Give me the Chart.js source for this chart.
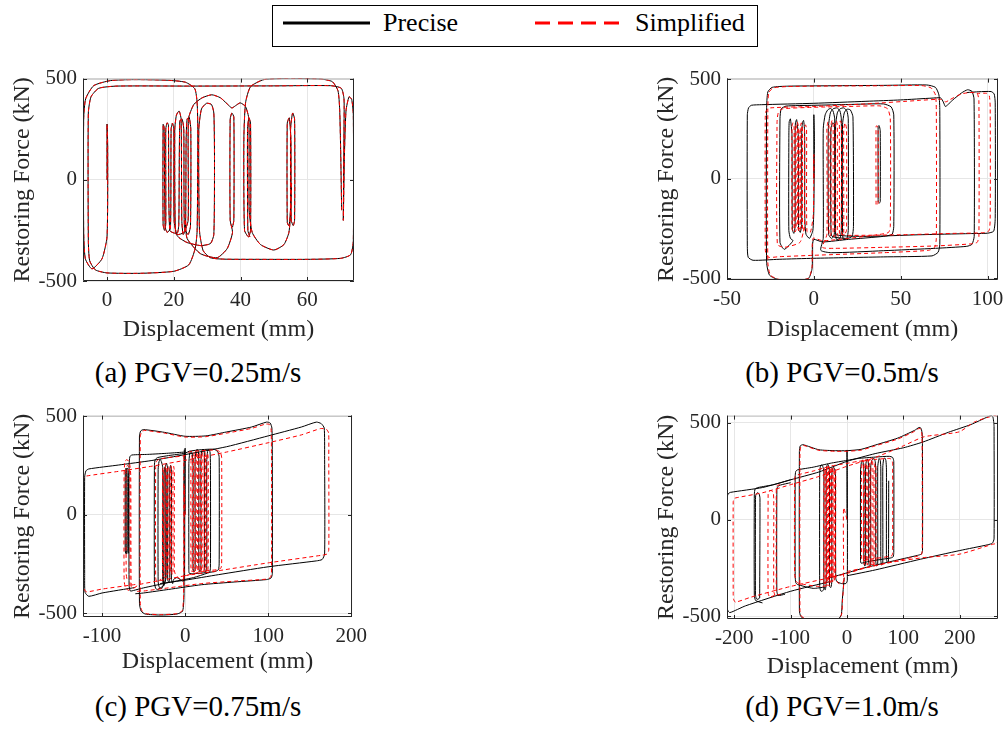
<!DOCTYPE html>
<html>
<head>
<meta charset="utf-8">
<script src="https://cdn.jsdelivr.net/npm/chart.js@4.4.1/dist/chart.umd.min.js"></script>
<style>
  html, body { margin: 0; padding: 0; background: #fff; }
  body { width: 1007px; height: 733px; position: relative; overflow: hidden; font-family: "Liberation Serif", "Times New Roman", serif; color: #000; }
  canvas { position: absolute; }
  .cap { position: absolute; width: 320px; text-align: center; font-size: 29px; line-height: 32px; white-space: nowrap; }
  #legend { position: absolute; left: 272px; top: 5px; width: 484px; height: 40px; border: 1px solid #000; background: #fff; }
  .lg { position: absolute; font-size: 26px; line-height: 30px; white-space: nowrap; }
</style>
</head>
<body>
<div id="legend"></div>
<svg style="position:absolute;left:283px;top:17px" width="90" height="12"><line x1="0" y1="6" x2="87" y2="6" stroke="#000" stroke-width="3"/></svg>
<span class="lg" style="left:383px;top:8px">Precise</span>
<svg style="position:absolute;left:535px;top:17px" width="90" height="12"><line x1="0" y1="6" x2="84" y2="6" stroke="#f00" stroke-width="3" stroke-dasharray="15 8"/></svg>
<span class="lg" style="left:635px;top:8px">Simplified</span>

<div class="cap" style="left:38px;top:356px">(a) PGV=0.25m/s</div>
<div class="cap" style="left:682px;top:356px">(b) PGV=0.5m/s</div>
<div class="cap" style="left:38px;top:690px">(c) PGV=0.75m/s</div>
<div class="cap" style="left:682px;top:690px">(d) PGV=1.0m/s</div>

<script>
// tick labels
const xTicksA = [0, 20, 40, 60];
const xTicksB = [-50, 0, 50, 100];
const xTicksC = [-100, 0, 100, 200];
const xTicksD = [-200, -100, 0, 100, 200];
const yTicks = [-500, 0, 500];

// hysteresis traces, [displacement mm, force kN]; [null, null] breaks the line
const pgv025Precise = [
  [0,0],[0,275],[0.2,160],[0,-280],[-1.5,-390],[-4.5,-440],[-6.5,-390],[-7,-250],[-7,300],[-6.4,400],[-4,465],[1,490],[8,495],[18,492],[23.5,482],[26.3,450],[27,380],[27.2,250],[27,-250],[26.4,-340],[24.5,-420],[20,-452],[10,-462],[0,-460],[-3.5,-445],[-5.2,-400],[-5.6,-300],[-5.6,330],[-4.8,410],[-2.5,452],[3,463],[25,463],[50,464],[67,465],[70.2,452],[71,400],[71,250],[70.8,-200],[71.1,100],[71.6,340],[72.5,410],[73.3,398],[73.8,320],[73.8,-300],[73,-370],[70,-388],[60,-393],[45,-393],[35,-392],[31,-385],[28.8,-350],[27.7,-250],[27.5,250],[28.3,350],[29.8,378],[31.3,372],[32,330],[32.2,100],[32,-270],[31,-315],[28,-325],[24,-310],[21.5,-285],[20.5,-260],
  [20.3,250],[20.8,320],[21.6,340],[22.2,300],[22.4,-200],[22.8,-270],[23.5,-250],[23.7,200],[24,300],[24.6,310],[25.1,250],[25,-230],[24.3,-270],[23.2,-240],[23,250],[22.5,300],[21.8,290],[21.5,-220],[21,-265],[18.8,-250],[18.4,270],[18,282],[17.6,250],[17.6,-220],[17.2,-250],[16.8,-220],[16.8,274],[17.1,260],[17.4,-230],[18,-260],[19,-240],[19.2,250],[19.6,280],[20,250],[20.1,-200],[21,-270],[23,-260],[24.3,-200],
  [24.4,300],[26,372],[28.5,405],[31.4,420],[34,405],[36,375],[37.4,355],[38.5,366],[39.9,380],[41.5,362],[42.5,300],[42.6,-150],[43.5,-260],[46,-320],[50,-347],[53,-320],[54.5,-260],[55,-150],[55,250],[55.6,330],[56.2,300],[56.2,-200],[55.8,-226],[55.2,-200],[55.1,200],[54.6,306],[54,280],[54,-210],[54.4,-226],[54.8,-200],[55.3,-16],
  [null,null],
  [42.8,-282],[42.2,-250],[42.1,250],[42.5,306],[43,280],[43,-250],[42.4,-282],[41.2,-250],[41,200],[41.5,380],[43,460],[47,495],[55,502],[64,498],[67.5,485],[69.2,440],[69.7,350],[70,150],[70.3,-150],
  [null,null],
  [23.5,-200],[24,-290],[28,-365],[33,-385],[36,-340],[37.6,-260],[36.9,-200],[36.9,300],[37.4,330],[38,310],[38,-200],[37.6,-234]
];
// at 0.25 m/s the simplified trace lies on the precise one
const pgv025Simplified = pgv025Precise;

const pgv05Precise = [
  [0,0],[0,320],[0.3,200],[0,-150],[-0.6,-260],[-2.5,-300],[-4.5,-280],[-5.2,-200],[-5.3,230],[-5.9,292],[-6.6,280],[-7,220],[-7,-230],[-7.8,-270],[-8.8,-255],[-9,220],[-9.9,296],[-10.6,280],[-10.8,220],[-10.8,-240],[-11.5,-275],[-12.4,-255],[-12.6,220],[-13.5,300],[-14.2,285],[-14.4,200],[-14.4,-260],[-13.5,-300],[-12,-312],
  [-17,-355],[-19.5,-320],[-19.5,300],[-18.8,350],[-16,364],[0,368],[20,372],[40,375],[44.5,360],[46,320],[46,-240],[45,-280],[40,-290],[20,-305],[5,-318],[0,-305],
  [-0.8,-330],[-1,-450],[-3,-500],[-10,-512],[-20,-508],[-25.5,-485],[-27.2,-420],[-27.2,350],[-26.5,435],[-24,458],[-15,464],[10,466],[40,468],[65,470],[70,458],[72,420],[72.5,340],[72.5,-330],[71.5,-370],[68,-388],[40,-393],[0,-400],[-20,-405],[-35,-410],[-37.8,-395],[-38.3,-340],
  [-38.3,320],[-37.6,355],[-36,368],[-30,371],[0,378],[30,388],[50,395],[68,404],[73,405],[74.5,385],[75.7,362],[77,370],[80,395],[85,430],[88.5,446],[91,438],[92.2,400],[92.3,-290],[91,-330],[88,-340],[70,-350],[40,-362],[10,-372],[4,-360],
  [5.4,-300],[5.4,250],[6.5,320],[8,345],[9.6,352],[11,340],[12,300],[12,-250],[11.5,-290],[10,-300],[8.5,-280],[8.3,250],[9.5,330],[11,350],[13.4,355],[15,340],[15.8,300],[15.8,-260],[15,-300],[13,-305],[12.5,-270],[12.5,260],[13.5,330],[15,350],[17.2,355],[19,340],[19.8,300],[19.8,-260],[19,-300],[17,-305],[16.5,-270],[16.5,270],[17.5,330],[19,348],[21,345],[22.5,310],[22.8,-240],[22,-290],[19,-300],[10.5,-290],[9.8,-250],[9.8,250],[10.8,280],[12,270],[12.2,-240],
  [13,-282],[30,-290],[60,-282],[90,-276],[100,-274],[103.5,-264],[104.4,-200],[104.4,380],[103.8,425],[102,437],[95,436],[88,432],
  [null,null],
  [37,-120],[37,262],[37.6,266],[38.2,240],[38.2,-115],[37.6,-125]
];
const pgv05Simplified = [
  [0,0],[0,120],[-0.3,-180],[-2,-270],[-4,-265],[-4.2,250],[-4.8,270],[-5.4,250],[-5.4,-250],[-6,-265],[-6.6,-250],[-6.6,260],[-7.2,280],[-7.8,260],[-7.8,-255],[-8.4,-268],[-9,-255],[-9,265],[-9.6,285],[-10.2,265],[-10.2,-255],[-10.8,-268],[-11.4,-255],[-11.4,260],[-12,280],[-12.6,260],[-12.6,-250],[-12,-262],[-11,-250],[-10.8,240],[-10,262],[-9.3,245],[-9.3,-240],[-8.6,-255],[-8,-240],[-8,240],[-7.3,258],[-6.7,240],[-6.7,-240],[-6,-252],[-5.4,-240],
  [-8,-320],[-17,-345],[-21,-330],[-21.2,280],[-20.5,330],[-18,350],[0,358],[20,362],[38,365],[42.5,350],[44,300],[44,-240],[43,-270],[38,-280],[20,-300],[5,-312],[-0.5,-300],
  [-1,-440],[-3,-500],[-10,-510],[-20,-506],[-25,-485],[-26.5,-420],[-26.5,340],[-26,430],[-23.5,455],[-15,462],[10,465],[40,466],[62,467],[67.5,455],[70,420],[70.5,340],[70.5,-300],[69.5,-345],[66,-360],[40,-372],[0,-385],[-20,-392],[-26,-395],[-27.8,-370],[-28,-300],[-28,300],[-27.5,340],[-25,355],[0,362],[30,375],[60,392],[73,398],[76,385],[78,395],[85,425],[90,432],[94,428],[95,390],[95,-290],[94,-320],[90,-328],[70,-338],[40,-345],[12,-350],[5,-345],
  [7.5,-280],[7.5,250],[8.1,285],[8.7,265],[8.7,-275],[9.3,-290],[9.9,-275],[9.9,270],[10.5,292],[11.1,270],[11.1,-275],[11.7,-292],[12.3,-275],[12.3,270],[12.9,292],[13.5,270],[13.5,-275],[14.1,-292],[14.7,-275],[14.7,270],[15.3,290],[15.9,270],[15.9,-270],[16.5,-285],[17.2,-270],[17.2,250],[18,280],[18.8,250],[18.8,-260],[18,-275],[16,-280],
  [20,-285],[50,-282],[80,-275],[97,-272],[100.8,-262],[101.5,-200],[101.5,360],[101,415],[99.5,428],[94,428],
  [null,null],
  [35.8,-130],[35.8,262],[36.4,265],[37,240],[37,-122],[36.4,-132]
];

const pgv075Precise = [
  [0,0],[0,337],[-0.4,200],[-0.8,-300],[-2,-338],[-6,-330],[-10,-320],
  [-14,-330],[-15,-350],[-16.5,-330],[-16.5,220],[-17.5,250],[-18.5,230],[-18.5,-320],[-19.5,-345],[-21,-330],[-21,230],[-22.5,262],[-24,240],[-24,-330],[-25.5,-360],[-27,-340],[-27,240],[-28.5,268],[-30,280],[-31.5,268],[-32.5,230],[-32.5,-340],[-31,-370],[-28,-375],[-26,-350],[-25.5,200],[-24.5,240],[-23,220],[-23,-320],[-26,-360],[-33,-380],[-35.5,-375],[-37,-340],[-37,250],[-36,280],[-33,290],
  [-20,300],[0,312],[5,322],[20,330],[35,332],[39.5,318],[41,290],[41,-250],[40,-280],[35,-290],[10,-300],[5,-298],
  [4.5,-280],[4.5,260],[5.5,310],[7,322],[8.5,310],[9.5,250],[9.5,-270],[10.5,-292],[12,-280],[12,270],[13,320],[14.5,332],[16,318],[16.5,260],[16.5,-270],[17.5,-290],[19,-280],[19,270],[20,322],[21.5,333],[23,320],[23.5,260],[23.5,-270],[24.5,-292],[26,-280],[26,270],[27,320],[28.5,330],[30,318],[30.5,250],[30.5,-270],[29.5,-293],[27,-297],
  [10,-320],[-20,-345],[-50,-372],[-62,-385],[-66,-388],[-67.5,-360],[-67.5,250],[-66.5,295],[-64,303],[-45,306],[-20,312],[0,318],
  [null,null],
  [-68,-197],[-68.3,200],[-69,230],[-69.8,237],[-70.6,225],[-71,180],[-71,-190],[-70.5,-200],[-69.8,-190],[-69.8,200],[-70.5,228],[-71.3,236],[-72,220],[-72.2,160],[-72.2,-180],[-71.6,-197],[-70.8,-185],
  [null,null],
  [-1,330],[-1.5,200],[-1.3,-400],[-3,-490],[-10,-505],[-30,-510],[-48,-505],[-53,-490],[-55,-450],[-55,400],[-53.5,425],[-50,432],[-25,418],[0,398],[25,400],[50,420],[80,445],[98,470],[102.5,465],[104.5,440],[105,300],[105,-300],[103.5,-322],[98,-330],[60,-342],[20,-356],[-20,-380],[-50,-398],[-60,-402],
  [null,null],
  [-60,-370],[-100,-398],[-116,-415],[-120.5,-395],[-121,-300],[-121,190],[-119.5,222],[-116,232],[-80,252],[-40,275],[0,305],[50,345],[100,400],[140,445],[158,470],[164,462],[167.5,440],[168,300],[168,-200],[165,-228],[158,-235],[100,-265],[40,-305],[0,-333],[-30,-350]
];
const pgv075Simplified = [
  [0,0],[-1,145],[-1.2,-300],[-3,-335],[-8,-320],[-12,-300],[-13,-280],[-13,220],[-13.8,245],[-14.6,225],[-14.6,-290],[-15.4,-305],[-16.2,-290],[-16.2,225],[-17,248],[-17.8,228],[-17.8,-290],[-18.6,-306],[-19.4,-290],[-19.4,225],[-20.2,248],[-21,228],[-21,-290],[-21.8,-306],[-22.6,-290],[-22.6,225],[-23.4,250],[-24.2,230],[-24.2,-290],[-25,-305],[-25.8,-290],[-25.8,220],[-26.5,240],[-27.2,220],[-27.2,-300],[-26,-318],[-22,-315],
  [-30,-330],[-34,-345],[-35.5,-320],[-35.5,240],[-34.5,270],[-31,282],[-20,290],[0,300],[5,318],[20,325],[38,328],[42.5,315],[44,290],[44,-250],[43,-272],[38,-280],[10,-290],[7,-285],
  [7,-270],[7,260],[7.8,300],[8.6,285],[8.6,-270],[9.4,-285],[10.2,-270],[10.2,290],[11,318],[11.8,295],[11.8,-270],[12.6,-288],[13.4,-270],[13.4,290],[14.2,318],[15,295],[15,-270],[15.8,-288],[16.6,-270],[16.6,290],[17.4,318],[18.2,295],[18.2,-270],[19,-288],[19.8,-270],[19.8,290],[20.6,318],[21.4,295],[21.4,-270],[22.2,-288],[23,-270],[23,290],[23.8,318],[24.6,295],[24.6,-270],[25.4,-285],[26.2,-270],[26.2,280],[27,312],[27.8,290],[27.8,-265],[27,-285],[20,-290],
  [0,-310],[-30,-335],[-55,-355],[-63,-375],[-65,-360],[-65.5,200],[-67,262],[-70,280],[-72.5,270],[-73.5,200],[-73.5,-330],[-72,-370],[-68,-385],[-66.5,-370],[-66.5,200],[-67.5,240],[-69.5,250],[-71,230],[-71,-300],[-70,-330],
  [null,null],
  [-1.5,300],[-1.8,-400],[-3.5,-488],[-10,-503],[-30,-508],[-47,-503],[-52,-488],[-54,-450],[-54,395],[-52.5,420],[-49,428],[-25,414],[0,394],[25,396],[50,414],[80,438],[97,460],[101.5,458],[103.5,435],[104,300],[104,-300],[102.5,-320],[97,-328],[60,-338],[20,-350],[-20,-372],[-50,-388],[-58,-390],
  [null,null],
  [-60,-355],[-100,-378],[-119,-392],[-122.5,-370],[-123,-300],[-123,160],[-122,188],[-119,196],[-80,220],[-40,246],[0,276],[50,318],[100,365],[140,405],[163,437],[170,434],[172.8,415],[173,300],[173,-180],[171,-200],[165,-206],[100,-245],[40,-285],[0,-310]
];

const pgv10Precise = [
  [0,0],[0,358],[0.5,200],[0.5,-315],[-2,-330],[-10,-330],[-18,-320],[-20,-300],[-20.5,230],[-22,262],[-24,270],[-26,262],[-27,220],[-27,-320],[-28.5,-350],[-31,-345],[-31,240],[-32.5,275],[-34,285],[-36,275],[-37,230],[-37,-330],[-38.5,-362],[-41,-355],[-41,240],[-42.5,270],[-45,282],[-47.5,270],[-48.5,230],[-48.5,-340],[-47,-367],[-44,-370],[-40,-350],
  [-60,-355],[-88,-335],[-91,-325],[-92,-290],[-92,220],[-91,248],[-88,256],[-60,270],[-30,290],[0,305],[20,315],[50,322],[75,326],[81,320],[83,300],[83,-170],[82,-192],[78,-198],[40,-215],[25,-225],
  [24,-210],[24,250],[25.5,295],[27,305],[28.5,295],[30,250],[30,-215],[31.5,-240],[33,-230],[33,270],[34.5,305],[36,312],[37.5,300],[38.5,260],[38.5,-220],[40,-243],[42,-235],[42,270],[44,305],[48,315],[50,300],[51,260],[51,-215],[52.5,-240],[54.5,-230],[54.5,270],[56,305],[57,315],[59,305],[60,265],[60,-210],[61.5,-235],[63.5,-225],[63.5,270],[65,310],[67,318],[69,305],[70,260],[70,-200],[71.5,-222],[73.5,-215],[74,200],
  [null,null],
  [-5,-300],[-8.5,-420],[-10,-490],[-15,-512],[-40,-517],[-75,-512],[-82,-500],[-84.5,-470],[-84.5,350],[-83,380],[-78,386],[-50,360],[-20,355],[0,355],[25,362],[50,384],[90,420],[120,460],[128,475],[131.5,470],[133.5,440],[134,300],[134,-160],[132,-178],[125,-185],[80,-215],[30,-250],[0,-275],[-30,-300],
  [null,null],
  [-30,-320],[-100,-370],[-180,-445],[-208,-480],[-212,-465],[-213,-400],[-213,110],[-211,132],[-207,140],[-150,165],[-100,205],[-50,245],[0,300],[50,340],[100,370],[135,400],[180,450],[220,490],[250,530],[256,537],[259,528],[260.5,500],[261,480],[261,-100],[258,-122],[250,-130],[200,-160],[130,-205],[50,-260],[0,-290],
  [null,null],
  [-150,-430],[-162,-418],[-164.5,-390],[-164.5,130],[-163,158],[-158,165],[-130,180],[-100,205],
  [null,null],
  [-155,-405],[-154.5,110],[-156,132],[-159,138],[-162,125],[-162.5,80],[-162.5,-385],[-161,-408],[-158,-412],[-155.5,-405],
  [null,null],
  [-110,-385],[-122,-392],[-124.5,-370],[-124.5,150],[-123,170],[-118,178],[-100,190]
];
const pgv10Simplified = [
  [0,0],[-6,60],[-6.2,-200],[-6.2,-315],[-8,-330],[-15,-330],[-20,-300],[-20,240],[-20.8,262],[-21.6,245],[-21.6,-300],[-22.4,-318],[-23.2,-300],[-23.2,245],[-24,268],[-24.8,250],[-24.8,-305],[-25.6,-322],[-26.4,-305],[-26.4,250],[-27.2,272],[-28,255],[-28,-305],[-28.8,-325],[-29.6,-308],[-29.6,250],[-30.4,273],[-31.2,255],[-31.2,-308],[-32,-328],[-32.8,-310],[-32.8,250],[-33.6,273],[-34.4,255],[-34.4,-310],[-35.2,-330],[-36,-312],[-36,250],[-36.8,272],[-37.6,255],[-37.6,-310],[-38.4,-332],[-39.2,-312],[-39.2,245],[-40,268],[-41,250],[-41,-310],[-40,-335],[-30,-340],
  [-50,-345],[-85,-330],[-90,-320],[-93,-280],[-93,200],[-92,222],[-88,230],[-60,250],[-30,275],[0,290],[20,300],[50,310],[76,315],[80,305],[81,280],[81,-170],[80,-185],[76,-190],[40,-205],[27,-213],
  [26,-200],[26,260],[27,300],[28,308],[29,300],[29.5,250],[29.5,-210],[30.5,-232],[31.5,-212],[31.5,265],[32.5,302],[33.5,310],[34.5,300],[35,255],[35,-215],[36,-235],[37,-215],[37,265],[38,302],[39,310],[40,300],[40.5,255],[40.5,-215],[41.5,-236],[42.5,-218],[42.5,265],[43.5,302],[44.5,310],[45.5,300],[46,255],[46,-218],[47,-238],[48,-220],[48,240],[49,280],[50,290],[51,280],[51.5,240],[51.5,-210],[50,-228],[40,-232],
  [null,null],
  [-5,-300],[-8,-420],[-9.5,-488],[-15,-510],[-40,-515],[-74,-510],[-81,-498],[-83.5,-468],[-83.5,345],[-82,375],[-77,382],[-50,357],[-20,352],[0,352],[25,358],[50,380],[90,415],[120,455],[128,470],[131,466],[133,436],[133.5,300],[133.5,-165],[131.5,-182],[124,-190],[80,-218],[30,-252],[0,-278],[-30,-300],
  [null,null],
  [-30,-300],[-100,-345],[-170,-400],[-198,-426],[-201.5,-410],[-202,-380],[-202,90],[-200.5,108],[-197,112],[-150,138],[-100,180],[-50,222],[0,275],[50,320],[100,380],[137,427],[199,452],[226,503],[262,537],[266,532],[267.5,510],[268,480],[268,-100],[266,-122],[258,-128],[199,-179],[137,-196],[80,-220],[0,-268],
  [null,null],
  [-128,-390],[-137,-400],[-140,-380],[-140,130],[-139,145],[-135,150],[-131,140],[-130,100],[-130,-370],[-128,-390],
  [null,null],
  [-118,-385],[-124,-388],[-125.5,-360],[-125.5,160],[-124,175],[-119,180]
];

const FONT = 'Liberation Serif';
const INK = '#262626';
const Y_AXIS_W = 83;
const PAD_TOP = 15;
const PAD_RIGHT = 20;

// MATLAB style box with inward ticks
const axesFrame = {
  id: 'axesFrame',
  afterDraw(chart) {
    const { ctx, chartArea: a, scales: { x, y } } = chart;
    ctx.save();
    ctx.lineWidth = 1;
    ctx.strokeStyle = '#b4b4b4';
    ctx.beginPath();
    ctx.moveTo(a.left, a.top + 0.5); ctx.lineTo(a.right, a.top + 0.5);
    ctx.stroke();
    ctx.strokeStyle = INK;
    ctx.beginPath();
    ctx.moveTo(a.left + 0.5, a.top); ctx.lineTo(a.left + 0.5, a.bottom - 0.5);
    ctx.lineTo(a.right - 0.5, a.bottom - 0.5); ctx.lineTo(a.right - 0.5, a.top);
    x.ticks.forEach(t => {
      const px = Math.round(x.getPixelForValue(t.value)) + 0.5;
      ctx.moveTo(px, a.bottom); ctx.lineTo(px, a.bottom - 4);
      ctx.moveTo(px, a.top); ctx.lineTo(px, a.top + 4);
    });
    y.ticks.forEach(t => {
      const py = Math.round(y.getPixelForValue(t.value)) + 0.5;
      ctx.moveTo(a.left, py); ctx.lineTo(a.left + 4, py);
      ctx.moveTo(a.right, py); ctx.lineTo(a.right - 4, py);
    });
    ctx.stroke();
    ctx.restore();
  }
};

const panels = [
  { pre: pgv025Precise, sim: pgv025Simplified, xTicks: xTicksA, xMin: -7.2, xMax: 74, yMin: -500, yMax: 500, L: 83, R: 354, T: 75, B: 281, xh: 63 },
  { pre: pgv05Precise, sim: pgv05Simplified, xTicks: xTicksB, xMin: -50, xMax: 106, yMin: -509, yMax: 502, L: 727, R: 998, T: 75, B: 280, xh: 64 },
  { pre: pgv075Precise, sim: pgv075Simplified, xTicks: xTicksC, xMin: -123, xMax: 201, yMin: -520, yMax: 503, L: 83, R: 354, T: 412, B: 617, xh: 59 },
  { pre: pgv10Precise, sim: pgv10Simplified, xTicks: xTicksD, xMin: -213, xMax: 268, yMin: -513, yMax: 536, L: 727, R: 998, T: 412, B: 619, xh: 62 }
];

function makePanel(p) {
  const canvas = document.createElement('canvas');
  const left = p.L - Y_AXIS_W;
  const top = p.T - PAD_TOP;
  const w = p.R - left + PAD_RIGHT;
  const h = p.B - top + p.xh;
  canvas.width = w;
  canvas.height = h;
  canvas.style.left = left + 'px';
  canvas.style.top = top + 'px';
  canvas.style.width = w + 'px';
  canvas.style.height = h + 'px';
  document.body.appendChild(canvas);

  const tickFont = { family: FONT, size: 21 };
  const titleFont = { family: FONT, size: 24 };

  new Chart(canvas, {
    type: 'scatter',
    data: {
      datasets: [
        { label: 'Precise', data: p.pre, borderColor: '#000', borderWidth: 1, showLine: true, pointRadius: 0, tension: 0.2, order: 1 },
        { label: 'Simplified', data: p.sim, borderColor: '#ff0000', borderWidth: 1, borderDash: [4, 3], showLine: true, pointRadius: 0, tension: 0.2, order: 0 }
      ]
    },
    options: {
      responsive: false,
      animation: false,
      devicePixelRatio: 1,
      events: [],
      layout: { padding: { top: PAD_TOP, right: PAD_RIGHT, left: 0, bottom: 0 } },
      plugins: { legend: { display: false }, tooltip: { enabled: false } },
      scales: {
        x: {
          type: 'linear', min: p.xMin, max: p.xMax,
          afterBuildTicks: s => { s.ticks = p.xTicks.map(v => ({ value: v })); },
          afterFit: s => { s.height = p.xh; },
          grid: { color: '#e6e6e6', drawTicks: false },
          border: { display: false },
          ticks: { padding: 7, color: INK, font: tickFont, maxRotation: 0, autoSkip: false, callback: v => String(v) },
          title: { display: true, text: 'Displacement (mm)', color: INK, font: titleFont, padding: { top: 0, bottom: 0 } }
        },
        y: {
          type: 'linear', min: p.yMin, max: p.yMax,
          afterBuildTicks: s => { s.ticks = yTicks.map(v => ({ value: v })); },
          afterFit: s => { s.width = Y_AXIS_W; },
          grid: { color: '#e6e6e6', drawTicks: false },
          border: { display: false },
          ticks: { padding: 6, color: INK, font: tickFont, autoSkip: false, callback: v => String(v) },
          title: { display: true, text: 'Restoring Force (kN)', color: INK, font: titleFont, padding: { top: 8, bottom: 0 } }
        }
      }
    },
    plugins: [axesFrame]
  });
}

panels.forEach(makePanel);
</script>
</body>
</html>
